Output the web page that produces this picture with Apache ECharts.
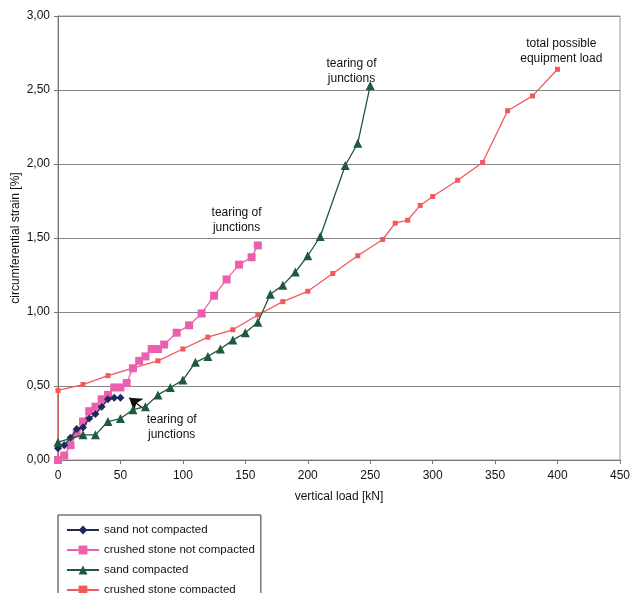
<!DOCTYPE html>
<html>
<head>
<meta charset="utf-8">
<script src="https://cdn.jsdelivr.net/npm/echarts@6/dist/echarts.min.js"></script>
<style>
  html, body { margin: 0; padding: 0; background: #fff; }
  #chart { width: 631px; height: 593px; }
</style>
</head>
<body>
<div id="chart"></div>
<script>
// vertical load [kN] / circumferential strain [%]
const sandNotCompacted = [
  [0, 0.08], [5, 0.10], [10, 0.15], [15, 0.21], [20, 0.22], [25, 0.28],
  [30, 0.31], [35, 0.36], [40, 0.41], [45, 0.42], [50, 0.42]
];
const stoneNotCompacted = [
  [0, 0.00], [5, 0.03], [10, 0.10], [15, 0.18], [20, 0.26], [25, 0.33],
  [30, 0.36], [35, 0.41], [40, 0.44], [45, 0.49], [50, 0.49], [55, 0.52],
  [60, 0.62], [65, 0.67], [70, 0.70], [75, 0.75], [80, 0.75], [85, 0.78],
  [95, 0.86], [105, 0.91], [115, 0.99], [125, 1.11], [135, 1.22],
  [145, 1.32], [155, 1.37], [160, 1.45]
];
const sandCompacted = [
  [0, 0.12], [20, 0.17], [30, 0.17], [40, 0.26], [50, 0.28], [60, 0.34],
  [70, 0.36], [80, 0.44], [90, 0.49], [100, 0.54], [110, 0.66], [120, 0.70],
  [130, 0.75], [140, 0.81], [150, 0.86], [160, 0.93], [170, 1.12],
  [180, 1.18], [190, 1.27], [200, 1.38], [210, 1.51], [230, 1.99],
  [240, 2.14], [250, 2.53]
];
const stoneCompacted = [
  [0, 0.00], [0, 0.47], [20, 0.51], [40, 0.57], [60, 0.62], [80, 0.67],
  [100, 0.75], [120, 0.83], [140, 0.88], [160, 0.98], [180, 1.07],
  [200, 1.14], [220, 1.26], [240, 1.38], [260, 1.49], [270, 1.60],
  [280, 1.62], [290, 1.72], [300, 1.78], [320, 1.89], [340, 2.01],
  [360, 2.36], [380, 2.46], [400, 2.64]
];

const xTicks = { min: 0, max: 450, interval: 50 };
const yTicks = { min: 0, max: 3, interval: 0.5 };

// notes placed in data space
const notes = [
  { coord: [235, 2.63], text: 'tearing of\njunctions' },
  { coord: [143, 1.62], text: 'tearing of\njunctions' },
  { coord: [403, 2.76], text: 'total possible\nequipment load' },
  { coord: [91, 0.22], text: 'tearing of\njunctions' }
];
const arrow = [[68, 0.35], [57, 0.42]];

const font = "'Liberation Sans', Arial, sans-serif";

const chart = echarts.init(document.getElementById('chart'));

chart.setOption({
  backgroundColor: '#fff',
  animation: false,
  grid: {
    left: 58, right: 11, top: 16, bottom: 133,
    containLabel: false, outerBoundsMode: 'none',
    show: true, borderColor: '#999', borderWidth: 1
  },
  xAxis: {
    type: 'value',
    min: xTicks.min, max: xTicks.max, interval: xTicks.interval,
    name: 'vertical load [kN]', nameLocation: 'middle', nameGap: 31,
    nameMoveOverlap: false,
    nameTextStyle: { fontFamily: font, fontSize: 12, color: '#111' },
    axisLine: { lineStyle: { color: '#777' } },
    axisTick: { show: true, length: 4, lineStyle: { color: '#777' } },
    axisLabel: { fontFamily: font, fontSize: 12, color: '#111', margin: 10 },
    splitLine: { show: false }
  },
  yAxis: {
    type: 'value',
    min: yTicks.min, max: yTicks.max, interval: yTicks.interval,
    name: 'circumferential strain [%]', nameLocation: 'middle', nameGap: 36,
    nameMoveOverlap: false,
    nameTextStyle: { fontFamily: font, fontSize: 12, color: '#111', padding: [0, 0, 0, 0] },
    axisLine: { show: true, lineStyle: { color: '#777' } },
    axisTick: { show: true, length: 4, lineStyle: { color: '#777' } },
    axisLabel: {
      fontFamily: font, fontSize: 12, color: '#111', margin: 8,
      formatter: v => v.toFixed(2).replace('.', ',')
    },
    splitLine: { lineStyle: { color: '#858585', width: 1 } }
  },
  legend: {
    orient: 'vertical',
    left: 58, top: 515, height: 90,
    padding: [9, 6, 8, 8],
    itemGap: 8,
    itemWidth: 32, itemHeight: 11,
    borderColor: '#333', borderWidth: 1,
    backgroundColor: '#fff',
    textStyle: { fontFamily: font, fontSize: 11.5, lineHeight: 11, color: '#111' },
    data: ['sand not compacted', 'crushed stone not compacted', 'sand compacted', 'crushed stone compacted']
  },
  series: [
    {
      name: 'sand not compacted', type: 'line', data: sandNotCompacted,
      symbol: 'diamond', symbolSize: 8,
      itemStyle: { color: '#1e2a5e' }, lineStyle: { color: '#1e2a5e', width: 1.3 },
      z: 4,
      markLine: {
        silent: true, symbol: ['none', 'arrow'], symbolSize: 12,
        lineStyle: { color: '#111', width: 1.2, type: 'solid' },
        label: { show: false },
        data: [[{ coord: arrow[0] }, { coord: arrow[1] }]]
      }
    },
    {
      name: 'crushed stone not compacted', type: 'line', data: stoneNotCompacted,
      symbol: 'rect', symbolSize: 8,
      itemStyle: { color: '#ec5fae' }, lineStyle: { color: '#ec5fae', width: 1.3 },
      z: 3
    },
    {
      name: 'sand compacted', type: 'line', data: sandCompacted,
      symbol: 'triangle', symbolSize: 9,
      itemStyle: { color: '#1f5a3c' }, lineStyle: { color: '#1f5a3c', width: 1.3 },
      z: 5
    },
    {
      name: 'crushed stone compacted', type: 'line', data: stoneCompacted,
      symbol: 'rect', symbolSize: 5,
      itemStyle: { color: '#f2585c' }, lineStyle: { color: '#f2585c', width: 1.3 },
      z: 2,
      markPoint: {
        silent: true, symbol: 'circle', symbolSize: 0,
        label: {
          show: true, position: 'inside', fontFamily: font, fontSize: 12,
          lineHeight: 15, color: '#111', align: 'center',
          formatter: p => p.data.text
        },
        data: notes.map(n => ({ coord: n.coord, text: n.text }))
      }
    }
  ]
});

window.addEventListener('resize', () => chart.resize());
</script>
</body>
</html>
